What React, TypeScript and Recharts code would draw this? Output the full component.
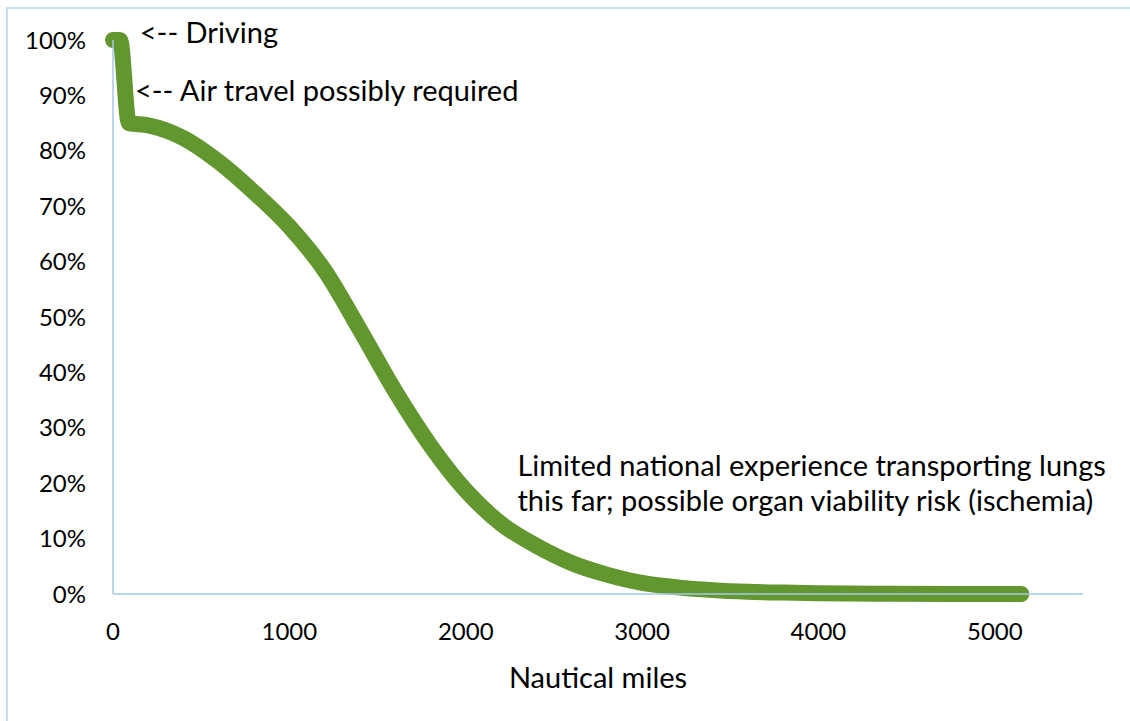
import { Label, Line, LineChart, ReferenceDot, XAxis, YAxis } from "recharts";

// distance (nautical miles) vs share of donor lungs
const miles = [0, 40, 90, 200, 400, 600, 800, 1000, 1200, 1400, 1600, 1800, 2000, 2200, 2400, 2600, 2800, 3000, 3200, 3400, 3600, 3800, 4000, 4400, 4800, 5150];
const share = [100, 100, 85, 84.6, 82.3, 78, 72.5, 66.3, 58.4, 47.7, 36.6, 26.8, 18.7, 12.7, 8.7, 5.6, 3.5, 2, 1.2, 0.7, 0.4, 0.25, 0.15, 0.05, 0, 0];

const xTicks = [0, 1000, 2000, 3000, 4000, 5000];
const yTicks = [0, 10, 20, 30, 40, 50, 60, 70, 80, 90, 100];

const notes = [
  { x: 152, y: 101.4, text: "<-- Driving" },
  { x: 125, y: 90.8, text: "<-- Air travel possibly required" },
  { x: 2293, y: 23.1, text: "Limited national experience transporting lungs" },
  { x: 2293, y: 16.8, text: "this far; possible organ viability risk (ischemia)" },
];

const data = miles.map((m, i) => ({ miles: m, share: share[i] }));

const axisBlue = "#A6C8EE";
const font = "Lato, 'Open Sans', sans-serif";

export default function App() {
  return (
    <div
      style={{
        position: "absolute",
        left: 0,
        top: 0,
        width: 1130,
        height: 721,
        overflow: "hidden",
        background: "#fff",
        fontFamily: font,
      }}
    >
      <div
        style={{
          position: "absolute",
          left: 6,
          top: 7,
          width: 1300,
          height: 900,
          border: "2px solid #C9DEF4",
        }}
      />
      <div style={{ position: "absolute", left: 0, top: 0 }}>
        <LineChart width={1130} height={721} data={data} margin={{ top: 40, right: 47, bottom: 0, left: 13 }}>
          <XAxis
            dataKey="miles"
            type="number"
            domain={[0, 5500]}
            ticks={xTicks}
            height={127}
            tickLine={false}
            tickSize={0}
            tickMargin={29}
            axisLine={{ stroke: axisBlue, strokeWidth: 1.5 }}
            tick={{ fill: "#000", fontSize: 24, fontFamily: font }}
          >
            <Label
              value="Nautical miles"
              position="insideBottom"
              offset={33}
              style={{ fill: "#000", fontSize: 29, fontFamily: font }}
            />
          </XAxis>
          <YAxis
            type="number"
            domain={[0, 100]}
            ticks={yTicks}
            width={100}
            tickLine={false}
            tickSize={0}
            tickMargin={27}
            tickFormatter={(v) => `${v}%`}
            axisLine={{ stroke: axisBlue, strokeWidth: 1.5 }}
            tick={{ fill: "#000", fontSize: 24, fontFamily: font }}
          />
          <Line
            type="monotone"
            dataKey="share"
            stroke="#62962F"
            strokeWidth={16}
            strokeLinecap="round"
            strokeLinejoin="round"
            dot={false}
            activeDot={false}
            isAnimationActive={false}
          />
          {notes.map((n) => (
            <ReferenceDot
              key={n.text}
              x={n.x}
              y={n.y}
              r={0}
              ifOverflow="visible"
              fill="none"
              stroke="none"
              label={{
                value: n.text,
                position: "right",
                offset: 0,
                style: { fill: "#000", fontSize: 29, fontFamily: font },
              }}
            />
          ))}
        </LineChart>
      </div>
    </div>
  );
}
